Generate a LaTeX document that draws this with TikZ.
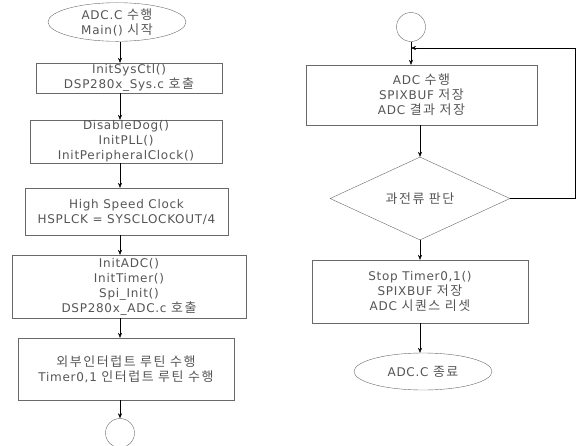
\documentclass[tikz,border=0pt]{standalone}
\usepackage{fontspec}
\setmainfont{DejaVu Sans}[LetterSpace=6]
\newfontfamily\krfont[Scale=1.08, LetterSpace=12]{Noto Sans CJK KR}
\usetikzlibrary{shapes.geometric, arrows.meta}
\definecolor{boxgray}{RGB}{105,105,105}
\definecolor{txtgray}{RGB}{85,85,85}

\begin{document}
\begin{tikzpicture}[x=1pt, y=-1pt, >={Stealth[length=5pt, width=4pt]},
  font=\fontsize{12}{15}\selectfont,
  every node/.style={text=txtgray, align=center, inner sep=0pt},
  stepbox/.style={draw=boxgray, rectangle},
  term/.style={draw=boxgray, ellipse},
  decide/.style={draw=boxgray, diamond},
  conn/.style={draw=boxgray, circle, minimum size=29pt},
  flow/.style={->, black}]
  \clip (0,0) rectangle (576,445);

  % left column
  \coordinate (lcol) at (120,0);
  \node[term, minimum width=138pt, minimum height=37pt] (start) at (117,22)
        {ADC.C {\krfont 수행}\\Main() {\krfont 시작}};
  \node[stepbox, minimum width=186pt, minimum height=30pt] (sys) at (129,78)
        {InitSysCtl()\\DSP280x\_Sys.c {\krfont 호출}};
  \node[stepbox, minimum width=192pt, minimum height=43pt] (pll) at (126,141.5)
        {DisableDog()\\InitPLL()\\InitPeripheralClock()};
  \node[stepbox, minimum width=203pt, minimum height=47pt] (clk) at (126.5,211.5)
        {High Speed Clock\\HSPLCK = SYSCLOCKOUT/4};
  \node[stepbox, minimum width=234pt, minimum height=63pt] (init) at (129,286.5)
        {InitADC()\\InitTimer()\\Spi\_Init()\\DSP280x\_ADC.c {\krfont 호출}};
  \node[stepbox, minimum width=216pt, minimum height=62pt] (isr) at (126,369)
        {{\krfont 외부인터럽트 루틴 수행}\\Timer0,1 {\krfont 인터럽트 루틴 수행}};
  \node[conn] (next) at (120,433) {};

  \draw[flow] (start.south -| lcol) -- (sys.north -| lcol);
  \draw[flow] (sys.south -| lcol) -- (pll.north -| lcol);
  \draw[flow] (pll.south -| lcol) -- (clk.north -| lcol);
  \draw[flow] (clk.south -| lcol) -- (init.north -| lcol);
  \draw[flow] (init.south -| lcol) -- (isr.north -| lcol);
  \draw[flow] (isr.south -| lcol) -- (next.north);

  % right column
  \coordinate (rcol) at (420,0);
  \node[conn] (entry) at (411,27) {};
  \node[stepbox, minimum width=231pt, minimum height=60pt] (run) at (421.5,95)
        {ADC {\krfont 수행}\\SPIXBUF {\krfont 저장}\\ADC {\krfont 결과 저장}};
  \node[decide, minimum width=180pt, minimum height=83pt] (judge) at (420,198.5)
        {{\krfont 과전류 판단}};
  \node[stepbox, minimum width=216pt, minimum height=63pt] (stop) at (420,291.5)
        {Stop Timer0,1()\\SPIXBUF {\krfont 저장}\\ADC {\krfont 시퀀스 리셋}};
  \node[term, minimum width=138pt, minimum height=37pt] (finish) at (423,371.5)
        {ADC.C {\krfont 종료}};
  \coordinate (merge) at (411,48);

  \draw[flow] (entry.south) -- (run.north -| entry);
  \draw[flow] (run.south -| rcol) -- (judge.north);
  \draw[flow] (judge.east) -- (575,198.5) |- (merge);
  \draw[flow] (judge.south) -- (stop.north -| rcol);
  \draw[flow] (stop.south -| rcol) -- (finish.north -| rcol);
\end{tikzpicture}
\end{document}
